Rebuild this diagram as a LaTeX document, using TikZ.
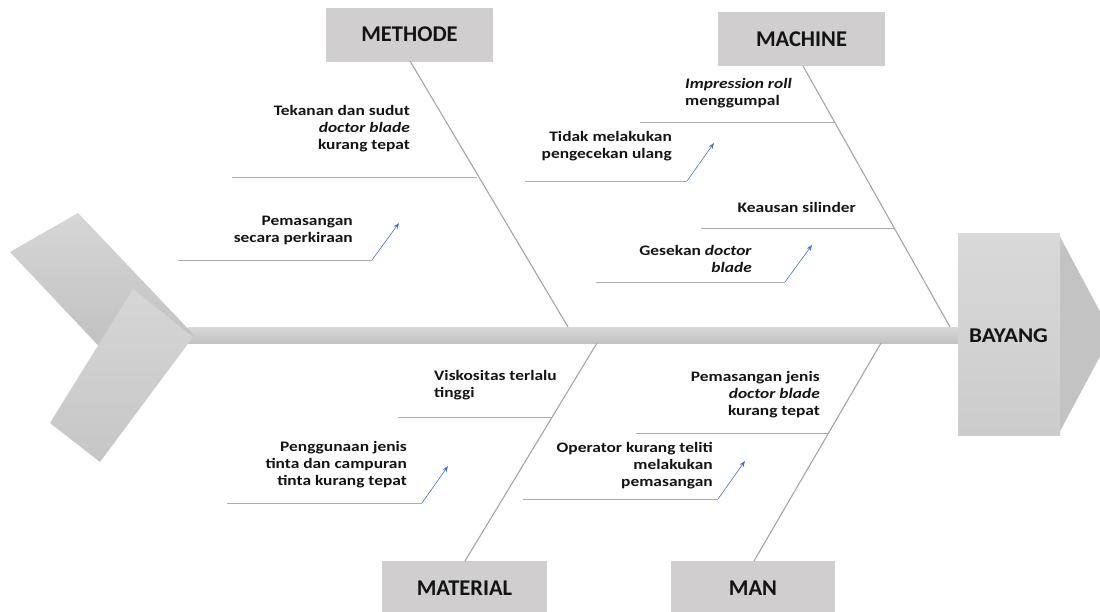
\documentclass[tikz,border=0pt]{standalone}
\usepackage{fontspec}
\setmainfont{Carlito}
\newfontfamily\causefont{Carlito}[FakeStretch=1.2]
\newfontfamily\headfont{Carlito}[FakeStretch=1.1]
\usetikzlibrary{arrows.meta,calc}

\definecolor{boxfill}{HTML}{D0CECE}
\definecolor{bonegray}{HTML}{A5A5A5}
\definecolor{twiggray}{HTML}{A8ADB4}
\definecolor{pointblue}{HTML}{4472C4}
\definecolor{spinetop}{HTML}{D8D8D8}
\definecolor{spinebot}{HTML}{C2C2C2}
\definecolor{tailA}{HTML}{D6D6D6}
\definecolor{tailB}{HTML}{BDBDBD}
\definecolor{tailC}{HTML}{C6C6C6}
\definecolor{headA}{HTML}{D9D9D9}
\definecolor{headB}{HTML}{CCCCCC}
\definecolor{tipgray}{HTML}{C3C3C3}
\definecolor{inkc}{HTML}{141414}

\tikzset{
  catbox/.style={fill=boxfill, draw=none, minimum width=167pt, minimum height=54pt,
    inner sep=0pt, font=\fontsize{22.5}{26}\selectfont\bfseries, text=inkc},
  cause/.style={inner sep=0pt, font=\causefont\fontsize{14.5}{17}\selectfont\bfseries, text=inkc},
  causeR/.style={cause, align=right, anchor=east},
  causeL/.style={cause, align=left, anchor=west},
  bone/.style={draw=bonegray, line width=1.1pt},
  twig/.style={draw=twiggray, line width=0.9pt},
  pointer/.style={draw=pointblue, line width=0.6pt, -{Stealth[length=6pt,width=4.5pt]}},
}

\begin{document}
\begin{tikzpicture}[x=1pt,y=-1pt]
\useasboundingbox (0,0) rectangle (1100,611);
\clip (0,0) rectangle (1100,611);

% spine
\shade[top color=spinetop, bottom color=spinebot] (188,327) rectangle (960,343);

% fish tail: two overlapping slanted plates
\shade[top color=tailA, bottom color=tailB, shading angle=0]
  (10,252) -- (78,213) -- (194,335) -- (127,376) -- cycle;
\shade[top color=tailA, bottom color=tailC]
  (133,289) -- (193,337) -- (100,462) -- (50,423) -- cycle;

% fish head
\fill[tipgray] (1058,233) -- (1112,334) -- (1058,435) -- cycle;
\shade[top color=headA, bottom color=headB] (958,233) rectangle (1060,435);
\node[inner sep=0pt, font=\headfont\fontsize{21}{24}\selectfont\bfseries, text=inkc] (effect) at (1008.5,336) {BAYANG};

% category boxes
\node[catbox] (methode)  at (409.5,34.5) {METHODE};
\node[catbox] (machine)  at (801.5,39)   {MACHINE};
\node[catbox, minimum width=165pt] (material) at (464.5,588) {MATERIAL};
\node[catbox, minimum width=164pt] (man)      at (753,588)   {MAN};

% bone ends on the spine
\coordinate (sMethode)  at (568,327);
\coordinate (sMachine)  at (950,327);
\coordinate (sMaterial) at (597,343);
\coordinate (sMan)      at (881,343);

\draw[bone] (410,61) -- (sMethode);
\draw[bone] (803,66) -- (sMachine);
\draw[bone] (465,561) -- (sMaterial);
\draw[bone] (754,561) -- (sMan);

% METHODE causes
\node[causeR] (c1) at (410,129) {Tekanan dan sudut\\ \textit{doctor blade}\\ kurang tepat};
\coordinate (c1a) at (232,177); \coordinate (c1b) at (477,177);
\draw[twig] (c1a) -- (c1b);

\node[causeR] (c2) at (353,230) {Pemasangan\\ secara perkiraan};
\coordinate (c2a) at (178,260); \coordinate (c2b) at (372,260); \coordinate (c2c) at (399,223);
\draw[twig] (c2a) -- (c2b);
\draw[pointer] (c2b) -- (c2c);

% MACHINE causes
\node[causeL] (c3) at (685,93) {\textit{Impression~roll}\\ menggumpal};
\coordinate (c3a) at (640,122); \coordinate (c3b) at (834,122);
\draw[twig] (c3a) -- (c3b);

\node[causeR] (c4) at (672,146.5) {Tidak melakukan\\ pengecekan ulang};
\coordinate (c4a) at (525,181); \coordinate (c4b) at (687,181); \coordinate (c4c) at (714,143);
\draw[twig] (c4a) -- (c4b);
\draw[pointer] (c4b) -- (c4c);

\node[causeR] (c5) at (856,207) {Keausan silinder};
\coordinate (c5a) at (701,228); \coordinate (c5b) at (894,228);
\draw[twig] (c5a) -- (c5b);

\node[causeR] (c6) at (752,258.5) {Gesekan \textit{doctor}\\ \textit{blade}};
\coordinate (c6a) at (596,282); \coordinate (c6b) at (785,282); \coordinate (c6c) at (812,245);
\draw[twig] (c6a) -- (c6b);
\draw[pointer] (c6b) -- (c6c);

% MATERIAL causes
\node[causeL] (c7) at (434,385.5) {Viskositas terlalu\\ tinggi};
\coordinate (c7a) at (398,417); \coordinate (c7b) at (552,417);
\draw[twig] (c7a) -- (c7b);

\node[causeR] (c8) at (407,465) {Penggunaan jenis\\ tinta dan campuran\\ tinta kurang tepat};
\coordinate (c8a) at (227,503); \coordinate (c8b) at (422,503); \coordinate (c8c) at (448,466);
\draw[twig] (c8a) -- (c8b);
\draw[pointer] (c8b) -- (c8c);

% MAN causes
\node[causeR] (c9) at (820,395) {Pemasangan jenis\\ \textit{doctor blade}\\ kurang tepat};
\coordinate (c9a) at (636,433); \coordinate (c9b) at (828,433);
\draw[twig] (c9a) -- (c9b);

\node[causeR] (c10) at (713,466) {Operator kurang teliti\\ melakukan\\ pemasangan};
\coordinate (c10a) at (523,499); \coordinate (c10b) at (718,499); \coordinate (c10c) at (745,461);
\draw[twig] (c10a) -- (c10b);
\draw[pointer] (c10b) -- (c10c);
\end{tikzpicture}
\end{document}
